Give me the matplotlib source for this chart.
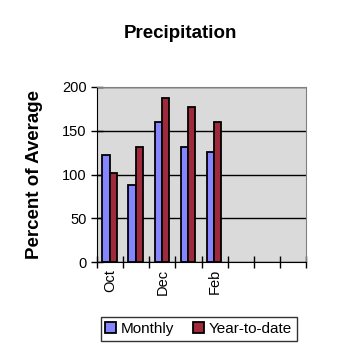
import numpy as np
import matplotlib.pyplot as plt

months = ["Oct", "Nov", "Dec", "Jan", "Feb", "Mar", "Apr", "May"]
tick_labels = ["Oct", "", "Dec", "", "Feb", "", "", ""]
monthly = [122, 88, 160, 132, 126]
year_to_date = [102, 131, 187, 177, 160]

plt.rcParams['font.family'] = ['Liberation Sans', 'DejaVu Sans']

fig = plt.figure(figsize=(3.58, 3.58), dpi=100)
ax = fig.add_axes([0.271, 0.268, 0.584, 0.489])

x = np.arange(len(monthly))
w = 0.28
ax.bar(x - w / 2 - 0.02, monthly, w, color='#8585ff', edgecolor='black', linewidth=1.3,
       label="Monthly", zorder=3)
ax.bar(x + w / 2 - 0.02, year_to_date, w, color='#9e2a3c', edgecolor='black', linewidth=1.3,
       label="Year-to-date", zorder=3)

ax.set_xlim(-0.5, len(months) - 0.5)
ax.set_ylim(0, 200)
ax.set_yticks([0, 50, 100, 150, 200])
ax.set_facecolor('#dadada')
ax.grid(axis='y', color='black', linewidth=1, zorder=1)

# ticks between categories, labels under every other month
ax.set_xticks(np.arange(len(months) + 1) - 0.5)
ax.set_xticklabels([])
ax.set_xticks(np.arange(len(months)), minor=True)
ax.set_xticklabels(tick_labels, minor=True, rotation=90, fontsize=10.5)
ax.tick_params(axis='x', which='minor', length=0, pad=5)
ax.tick_params(axis='x', which='major', direction='inout', length=8, width=1)
ax.tick_params(axis='y', direction='inout', length=8, width=1, labelsize=10.5)

for side in ['top', 'right']:
    ax.spines[side].set_color('#808080')

fig.suptitle("Precipitation", x=0.503, y=0.93, fontsize=13.5, fontweight='bold')
ax.set_ylabel("Percent of Average", fontsize=13.5, fontweight='bold', labelpad=14)

fig.legend(loc='center', bbox_to_anchor=(0.555, 0.081), ncol=2, fontsize=11,
           frameon=True, fancybox=False, edgecolor='black', handlelength=0.7,
           handleheight=0.7, handletextpad=0.35, columnspacing=1.2, borderpad=0.3)

plt.savefig("out.png", dpi=100)
